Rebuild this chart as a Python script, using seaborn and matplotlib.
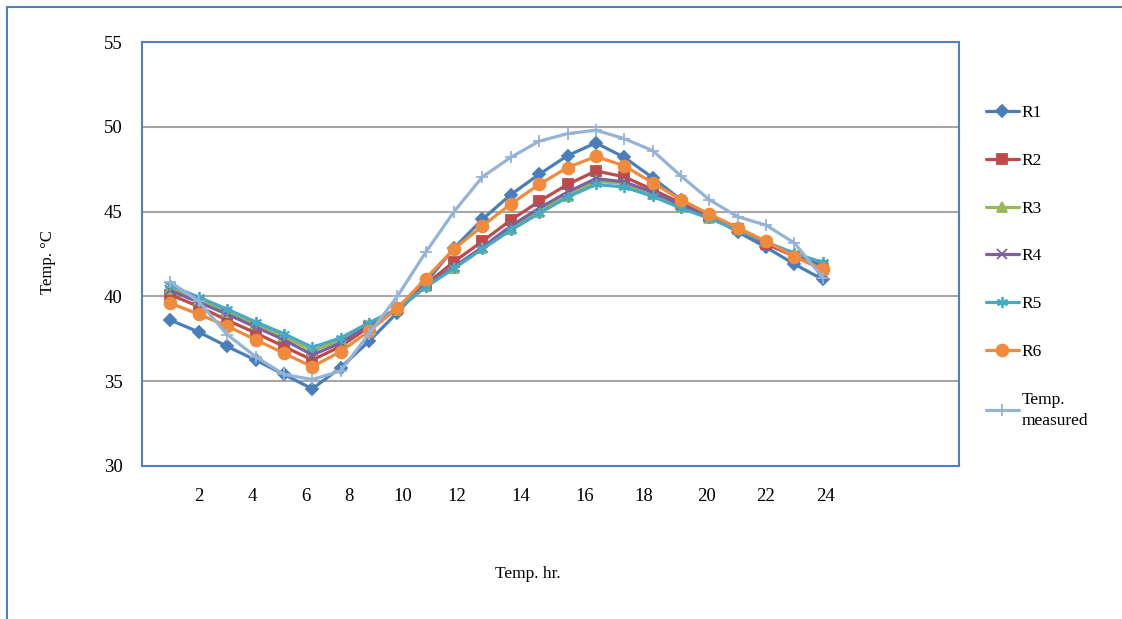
import matplotlib
matplotlib.use('Agg')
import matplotlib.pyplot as plt
import seaborn as sns

hours = list(range(1, 25))

r1 = [38.6, 37.9, 37.05, 36.25, 35.4, 34.55, 35.8, 37.35, 39.05, 40.8, 42.85, 44.55,
      46.0, 47.2, 48.3, 49.05, 48.2, 47.0, 45.7, 44.75, 43.8, 42.9, 41.9, 41.0]
r2 = [40.1, 39.4, 38.6, 37.85, 37.05, 36.25, 37.05, 38.2, 39.3, 40.7, 42.05, 43.25,
      44.5, 45.6, 46.6, 47.4, 47.05, 46.3, 45.5, 44.75, 43.95, 43.1, 42.35, 41.6]
r3 = [40.45, 39.8, 39.1, 38.4, 37.65, 36.8, 37.4, 38.35, 39.2, 40.6, 41.7, 42.85,
      44.0, 45.0, 45.95, 46.8, 46.65, 46.05, 45.3, 44.65, 43.95, 43.2, 42.5, 41.9]
r4 = [40.35, 39.65, 38.95, 38.2, 37.45, 36.55, 37.25, 38.3, 39.2, 40.6, 41.75, 42.9,
      44.15, 45.2, 46.15, 46.95, 46.75, 46.15, 45.4, 44.7, 43.95, 43.15, 42.45, 41.8]
r5 = [40.65, 39.95, 39.25, 38.5, 37.8, 37.0, 37.55, 38.45, 39.25, 40.55, 41.65, 42.8,
      43.9, 44.9, 45.85, 46.6, 46.45, 45.9, 45.2, 44.6, 43.9, 43.2, 42.55, 42.0]
r6 = [39.6, 38.95, 38.25, 37.45, 36.65, 35.85, 36.75, 37.95, 39.3, 41.05, 42.8, 44.15,
      45.45, 46.6, 47.6, 48.25, 47.7, 46.7, 45.7, 44.85, 44.05, 43.25, 42.35, 41.6]
measured = [40.85, 39.7, 37.75, 36.45, 35.4, 35.1, 35.6, 37.8, 40.0, 42.6, 45.0, 47.05,
            48.2, 49.15, 49.6, 49.8, 49.3, 48.6, 47.1, 45.7, 44.7, 44.2, 43.15, 41.1]

# the hour labels in the original sit a little off the data points
tick_labels = ['2', '4', '6', '8', '10', '12', '14', '16', '18', '20', '22', '24']
tick_pos = [1.99, 3.89, 5.76, 7.28, 9.18, 11.09, 13.35, 15.6, 17.68, 19.9, 21.99, 24.1]

sns.set_theme(style='white')
plt.rcParams['font.family'] = ['Liberation Serif', 'DejaVu Serif']
plt.rcParams['text.color'] = 'black'
plt.rcParams['axes.labelcolor'] = 'black'

fig, ax = plt.subplots(figsize=(11.22, 6.19), dpi=100)
fig.subplots_adjust(left=0.1266, right=0.8547, bottom=0.2472, top=0.9321)

series = [
    ('R1', r1, '#4A7EBB', 'D', 6),
    ('R2', r2, '#BE4B48', 's', 7),
    ('R3', r3, '#98B954', '^', 7),
    ('R4', r4, '#7D60A0', 'x', 7),
    ('R5', r5, '#46AAC5', (6, 2, 0), 8),
    ('R6', r6, '#F08A3C', 'o', 8.5),
    ('Temp.\nmeasured', measured, '#95B3D7', '+', 9),
]

ax.yaxis.grid(True, color='#A6A6A6', linewidth=1.5)
ax.set_axisbelow(True)

for name, vals, col, mk, ms in series:
    sns.lineplot(x=hours, y=vals, label=name, color=col, marker=mk, markersize=ms,
                 markeredgecolor=col, markeredgewidth=1.3, linewidth=2.3, ax=ax)

ax.set_xlim(0, 28.8)
ax.set_ylim(30, 55)
ax.set_yticks([30, 35, 40, 45, 50, 55])
ax.set_xticks(tick_pos)
ax.set_xticklabels(tick_labels)
ax.tick_params(axis='y', length=5, width=1.2, color='#A6A6A6', pad=9, labelsize=13.5,
               labelcolor='black')
ax.tick_params(axis='x', length=0, pad=16, labelsize=13.5, labelcolor='black')

for s in ax.spines.values():
    s.set_color('#4F81BD')
    s.set_linewidth(1.5)

ax.set_ylabel('Temp. °C', fontsize=12)
ax.yaxis.set_label_coords(-0.105, 0.481)
ax.set_xlabel('Temp. hr.', fontsize=12.5)
ax.xaxis.set_label_coords(0.4725, -0.235)

handles, labels = ax.get_legend_handles_labels()
leg = ax.legend(handles, labels, loc='upper left', bbox_to_anchor=(986 / 1122, 1 - 105 / 619),
                bbox_transform=fig.transFigure, frameon=False, fontsize=12.5, labelspacing=1.82,
                handlelength=1.9, handletextpad=0.15, borderaxespad=0, borderpad=0)
leg.get_texts()[-1].set_linespacing(1.45)

# outer chart-area border (top and left edges are visible in the original)
fig.add_artist(plt.Line2D([7 / 1122, 1], [1 - 7 / 619, 1 - 7 / 619],
                          transform=fig.transFigure, color='#4F81BD', lw=1.5))
fig.add_artist(plt.Line2D([7 / 1122, 7 / 1122], [0, 1 - 7 / 619],
                          transform=fig.transFigure, color='#4F81BD', lw=1.5))

fig.savefig('out.png', dpi=100)
